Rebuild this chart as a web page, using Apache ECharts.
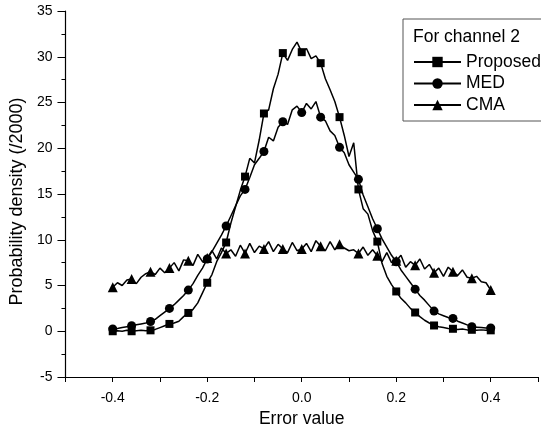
<!DOCTYPE html>
<html>
<head>
<meta charset="utf-8">
<script src="https://cdn.jsdelivr.net/npm/echarts@6/dist/echarts.min.js"></script>
<style>
html,body{margin:0;padding:0;background:#fff;}
#chart{width:541px;height:437px;}
</style>
</head>
<body>
<div id="chart"></div>
<script>
// error value grid: -0.40 .. 0.40, step 0.01
const errorValues = [];
for (let i = -40; i <= 40; i++) errorValues.push(i / 100);

// probability density (/2000)
const proposed = [
  0, 0.05, 0, 0.1,
  0, 0.05, 0.1, 0.05,
  0.1, 0.2, 0.4, 0.6,
  0.8, 0.9, 1.1, 1.6,
  2.0, 2.4, 3.1, 4.2,
  5.3, 6.2, 7.6, 8.6,
  9.7, 11.8, 13.6, 15.4,
  16.9, 18.9, 18.4, 20.9,
  23.8, 24.2, 26.5, 28.1,
  30.4, 29.6, 30.8, 31.6,
  30.5, 30.9, 29.8, 30.1,
  29.3, 27.6, 26.4, 25.1,
  23.4, 21.4, 19.1, 20.6,
  15.5, 13.4, 12.8, 11.0,
  9.8, 7.4, 6.0, 5.1,
  4.35, 3.6, 3.1, 2.5,
  2.05, 1.6, 1.2, 0.9,
  0.63, 0.5, 0.4, 0.3,
  0.27, 0.2, 0.25, 0.15,
  0.16, 0.1, 0.15, 0.1,
  0.1
];
const med = [
  0.25, 0.3, 0.4, 0.5,
  0.6, 0.7, 0.8, 0.9,
  1.07, 1.3, 1.7, 2.1,
  2.5, 2.9, 3.4, 3.9,
  4.5, 5.2, 6.1, 6.9,
  7.9, 8.7, 9.6, 10.5,
  11.5, 12.6, 13.7, 14.8,
  15.5, 16.8, 18.2, 18.9,
  19.65, 21.2, 20.8, 22.3,
  22.9, 22.6, 24.2, 24.6,
  23.9, 24.9, 24.3, 25.1,
  23.4, 23.0, 21.9, 21.4,
  20.1, 19.5, 18.2, 17.4,
  16.6, 14.9, 13.6, 12.3,
  11.2, 10.1, 9.2, 8.3,
  7.6, 6.7, 6.0, 5.3,
  4.6, 3.9, 3.4, 2.8,
  2.2, 1.9, 1.7, 1.5,
  1.4, 1.1, 0.9, 0.7,
  0.5, 0.45, 0.4, 0.35,
  0.35
];
const cma = [
  4.8, 5.3, 5.0, 5.6,
  5.7, 5.2, 5.9, 6.3,
  6.5, 6.2, 6.9, 6.4,
  6.9, 7.5, 6.6, 7.8,
  7.7, 7.2, 8.4, 7.6,
  8.0, 8.8, 7.9, 9.1,
  8.5, 8.9, 8.2, 9.4,
  8.5, 9.6, 8.6, 9.3,
  9.0, 9.8, 8.7, 9.5,
  9.0, 8.6, 9.7, 8.8,
  9.0, 9.6, 8.7, 9.9,
  9.3, 8.8, 9.8, 8.9,
  9.5, 9.1, 8.8, 8.9,
  8.5, 9.2, 8.3, 8.9,
  8.25, 7.6, 8.6, 7.5,
  7.7, 8.3, 7.0, 7.6,
  7.2, 7.9, 6.8, 7.3,
  6.4, 6.9, 6.0, 7.0,
  6.5, 6.1, 6.7, 5.9,
  5.8, 6.0, 5.4, 5.3,
  4.5
];

const seriesNames = ['Proposed', 'MED', 'CMA'];
const seriesSymbols = ['rect', 'circle', 'triangle'];
const legendTitle = 'For channel 2';
const xName = 'Error value';
const yName = 'Probability density (/2000)';

const font = 'Arial, "Liberation Sans", sans-serif';

function pairs(vals) {
  return vals.map((v, i) => [errorValues[i], v]);
}

function makeSeries(name, vals, symbol, size) {
  return {
    name: name,
    type: 'line',
    // markers every 0.04 only
    data: pairs(vals).map((p, i) => i % 4 === 0 ? p : {value: p, symbol: 'none'}),
    symbol: symbol,
    symbolSize: size,
    showAllSymbol: true,
    animation: false,
    lineStyle: {color: '#000', width: 1.5},
    itemStyle: {color: '#000'},
    emphasis: {disabled: true},
    z: 3
  };
}

const chart = echarts.init(document.getElementById('chart'));

chart.setOption({
  animation: false,
  textStyle: {fontFamily: font},
  grid: {left: 65, top: 11, right: -13.5, bottom: 60},
  legend: {
    orient: 'vertical',
    left: 403,
    top: 19,
    padding: [34, 40, 7, 10],
    itemGap: 3.5,
    itemWidth: 47,
    itemHeight: 13,
    backgroundColor: '#fff',
    borderColor: '#555',
    borderWidth: 1,
    borderRadius: 0,
    data: seriesNames,
    textStyle: {fontSize: 17.5, color: '#000', fontFamily: font}
  },
  graphic: [{
    type: 'text',
    left: 413,
    top: 28.5,
    z: 100,
    style: {text: legendTitle, fontSize: 17.5, fill: '#000', fontFamily: font}
  }],
  xAxis: {
    type: 'value',
    min: -0.5,
    max: 0.5,
    interval: 0.1,
    name: xName,
    nameLocation: 'middle',
    nameGap: 30,
    nameTextStyle: {fontSize: 17.5, color: '#000', fontFamily: font},
    axisLine: {onZero: false, lineStyle: {color: '#000', width: 1.2}},
    axisTick: {inside: false, length: 5, lineStyle: {color: '#000'}},
    axisLabel: {
      fontSize: 14, color: '#000', margin: 14,
      formatter: function (v) {
        const r = Math.round(v * 10);
        return (r % 2 === 0 && Math.abs(r) < 5) ? (r / 10).toFixed(1) : '';
      }
    },
    splitLine: {show: false}
  },
  yAxis: {
    type: 'value',
    min: -5,
    max: 35,
    interval: 5,
    name: yName,
    nameLocation: 'middle',
    nameGap: 38,
    nameTextStyle: {fontSize: 18, color: '#000', fontFamily: font, padding: [0, 15, 0, 0]},
    axisLine: {onZero: false, lineStyle: {color: '#000', width: 1.2}},
    axisTick: {inside: false, length: 8, lineStyle: {color: '#000'}},
    minorTick: {show: true, splitNumber: 2, length: 4, lineStyle: {color: '#000'}},
    axisLabel: {fontSize: 14, color: '#000', margin: 13},
    splitLine: {show: false}
  },
  series: [
    makeSeries(seriesNames[0], proposed, seriesSymbols[0], 8),
    makeSeries(seriesNames[1], med, seriesSymbols[1], 9),
    makeSeries(seriesNames[2], cma, seriesSymbols[2], 10)
  ]
});
</script>
</body>
</html>
